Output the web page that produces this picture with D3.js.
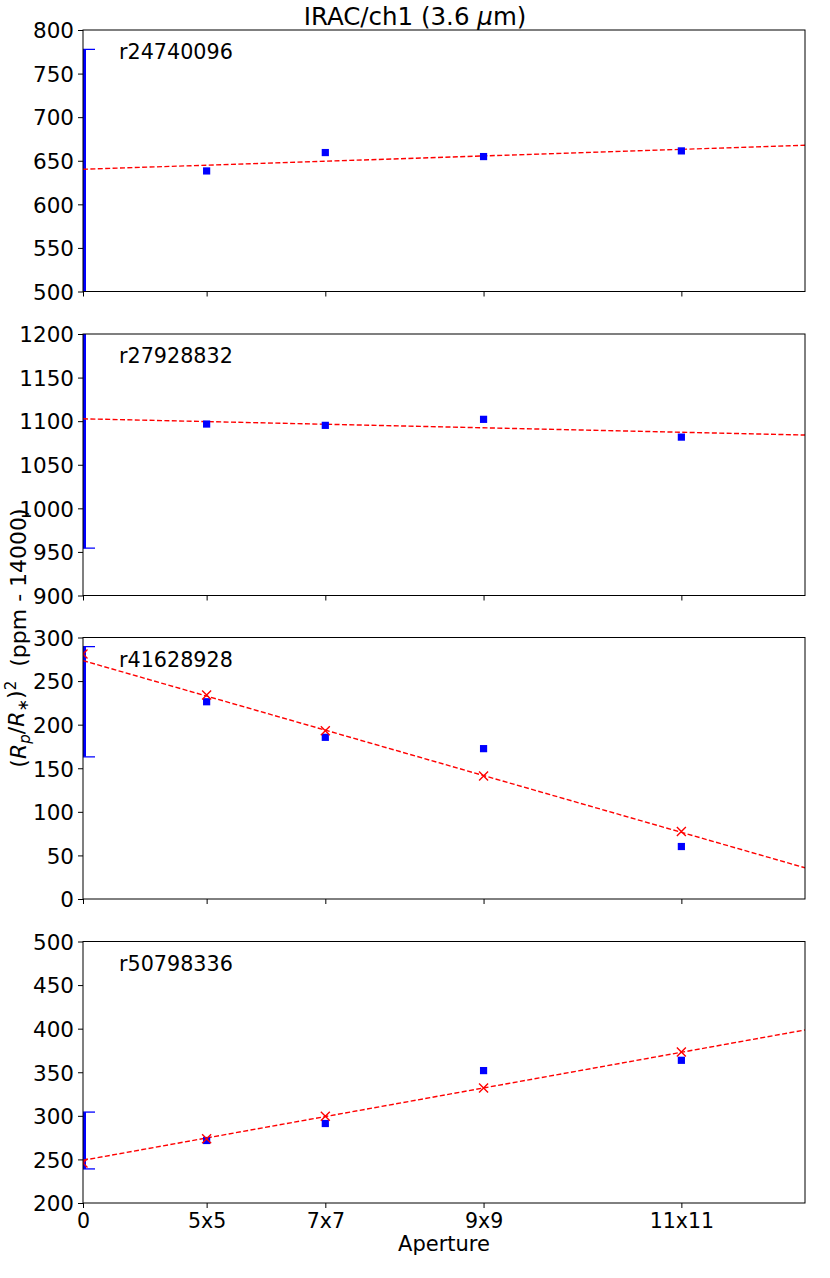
<!DOCTYPE html>
<html><head><meta charset="utf-8">
<script src="https://cdn.jsdelivr.net/npm/d3@7"></script>
<style>body{margin:0;background:#fff} text{font-family:"DejaVu Sans",sans-serif;fill:#000}</style>
</head><body><svg id="c" width="830" height="1278"></svg>
<script>
// ---- data ----
const apertureLabels = ["0", "5x5", "7x7", "9x9", "11x11"];
const apertureArea = [0, 25, 49, 81, 121];
const runs = ["r24740096", "r27928832", "r41628928", "r50798336"];
const yTicks = [
  [500, 550, 600, 650, 700, 750, 800],
  [900, 950, 1000, 1050, 1100, 1150, 1200],
  [0, 50, 100, 150, 200, 250, 300],
  [200, 250, 300, 350, 400, 450, 500]
];
const measuredArea = [25, 49, 81, 121];
const measured = [
  [638.3, 659.4, 654.8, 661.3],
  [1096.7, 1095.2, 1102.1, 1081.7],
  [226.3, 185.5, 172.5, 60.2],
  [271.7, 291.2, 351.9, 363.7]
];
const modelArea = [0, 25, 49, 81, 121];
const modelled = [
  null,
  null,
  [281, 234, 193, 141.2, 77.4],
  [246, 273.6, 299.6, 332, 373.3]
];
const fitAtZero = [640.2, 1102.7, 273.5, 249];
const fitAtEnd = [667.8, 1084.1, 35.8, 398.5];
const errCenter = [638.3, 1096.7, 226.3, 271.7];
const errSize = [139.5, 142.4, 63.2, 32.6];
const xMax = 146;

// ---- layout ----
const svg = d3.select("#c");
const L = 83, R = 805, H = 261.5;
const tops = [30, 334, 637.5, 941.5];
const x = d3.scaleLinear().domain([0, xMax]).range([L, R]);

const title = svg.append("text").attr("x", 415).attr("y", 25).attr("text-anchor", "middle")
  .style("font-size", "24.5px");
title.append("tspan").text("IRAC/ch1 (3.6 ");
title.append("tspan").style("font-style", "italic").text("μ");
title.append("tspan").text("m)");

runs.forEach((run, i) => {
  const top = tops[i], bot = top + H;
  const yDom = [yTicks[i][0], yTicks[i][yTicks[i].length - 1]];
  const y = d3.scaleLinear().domain(yDom).range([bot, top]);
  const g = svg.append("g");
  const cid = "clip" + i;
  svg.append("clipPath").attr("id", cid).append("rect")
    .attr("x", L).attr("y", top).attr("width", R - L).attr("height", H);
  const pg = g.append("g").attr("clip-path", `url(#${cid})`);

  // error bar at x = 0
  const e0 = errCenter[i] - errSize[i], e1 = errCenter[i] + errSize[i];
  pg.append("line").attr("x1", x(0)).attr("x2", x(0)).attr("y1", y(e0)).attr("y2", y(e1))
    .attr("stroke", "#0000ff").attr("stroke-width", 6);
  [e0, e1].forEach(v => pg.append("line").attr("x1", x(0) - 12).attr("x2", x(0) + 12)
    .attr("y1", y(v)).attr("y2", y(v)).attr("stroke", "#0000ff").attr("stroke-width", 1.3));

  // fit line
  pg.append("line").attr("x1", x(0)).attr("x2", x(xMax))
    .attr("y1", y(fitAtZero[i])).attr("y2", y(fitAtEnd[i]))
    .attr("stroke", "#ff0000").attr("stroke-width", 1.4).attr("stroke-dasharray", "5,2.4");

  // measured squares
  pg.selectAll("rect.m").data(measured[i]).enter().append("rect")
    .attr("x", (d, j) => x(measuredArea[j]) - 3.6).attr("y", d => y(d) - 3.6)
    .attr("width", 7.2).attr("height", 7.2).attr("fill", "#0000ff");

  // modelled x markers
  if (modelled[i]) {
    modelled[i].forEach((d, j) => {
      const cx = x(modelArea[j]), cy = y(d), s = 4.5;
      pg.append("path").attr("d", `M${cx - s},${cy - s}L${cx + s},${cy + s}M${cx - s},${cy + s}L${cx + s},${cy - s}`)
        .attr("stroke", "#ff0000").attr("stroke-width", 1.4).attr("fill", "none");
    });
  }

  // axes
  const ya = g.append("g").attr("transform", `translate(${L},0)`)
    .call(d3.axisLeft(y).tickValues(yTicks[i]).tickSize(5).tickPadding(4).tickFormat(d3.format("d")));
  ya.select(".domain").remove();
  ya.selectAll("line").attr("stroke", "#000").attr("stroke-width", 1);
  ya.selectAll("text").style("font-size", "21.5px").style("font-family", "DejaVu Sans").attr("dy", "0.36em");

  const xa = g.append("g").attr("transform", `translate(0,${bot})`)
    .call(d3.axisBottom(x).tickValues(apertureArea).tickSize(5).tickPadding(5)
      .tickFormat((d, k) => i === 3 ? apertureLabels[k] : ""));
  xa.select(".domain").remove();
  xa.selectAll("line").attr("stroke", "#000").attr("stroke-width", 1);
  xa.selectAll("text").style("font-size", "20.5px").style("font-family", "DejaVu Sans");

  g.append("rect").attr("x", L).attr("y", top).attr("width", R - L).attr("height", H)
    .attr("fill", "none").attr("stroke", "#000").attr("stroke-width", 1);

  g.append("text").attr("x", 119).attr("y", top + 29).style("font-size", "20.7px").text(run);
});

// x axis label
svg.append("text").attr("x", x(xMax / 2)).attr("y", 1251).attr("text-anchor", "middle")
  .style("font-size", "21px").text("Aperture");

// y axis label
const yl = svg.append("text").attr("transform", "translate(26,638) rotate(-90)")
  .attr("text-anchor", "middle").style("font-size", "22px");
yl.append("tspan").text("(");
yl.append("tspan").style("font-style", "italic").text("R");
yl.append("tspan").attr("dy", "0.25em").style("font-size", "15px").style("font-style", "italic").text("p");
yl.append("tspan").attr("dy", "-0.25em").text("/");
yl.append("tspan").style("font-style", "italic").text("R");
yl.append("tspan").attr("dy", "0.25em").style("font-size", "15px").text("∗");
yl.append("tspan").attr("dy", "-0.25em").text(")");
yl.append("tspan").attr("dy", "-0.45em").style("font-size", "15px").text("2");
yl.append("tspan").attr("dy", "0.45em").text("\u00a0\u00a0(ppm - 14000)");
</script></body></html>
